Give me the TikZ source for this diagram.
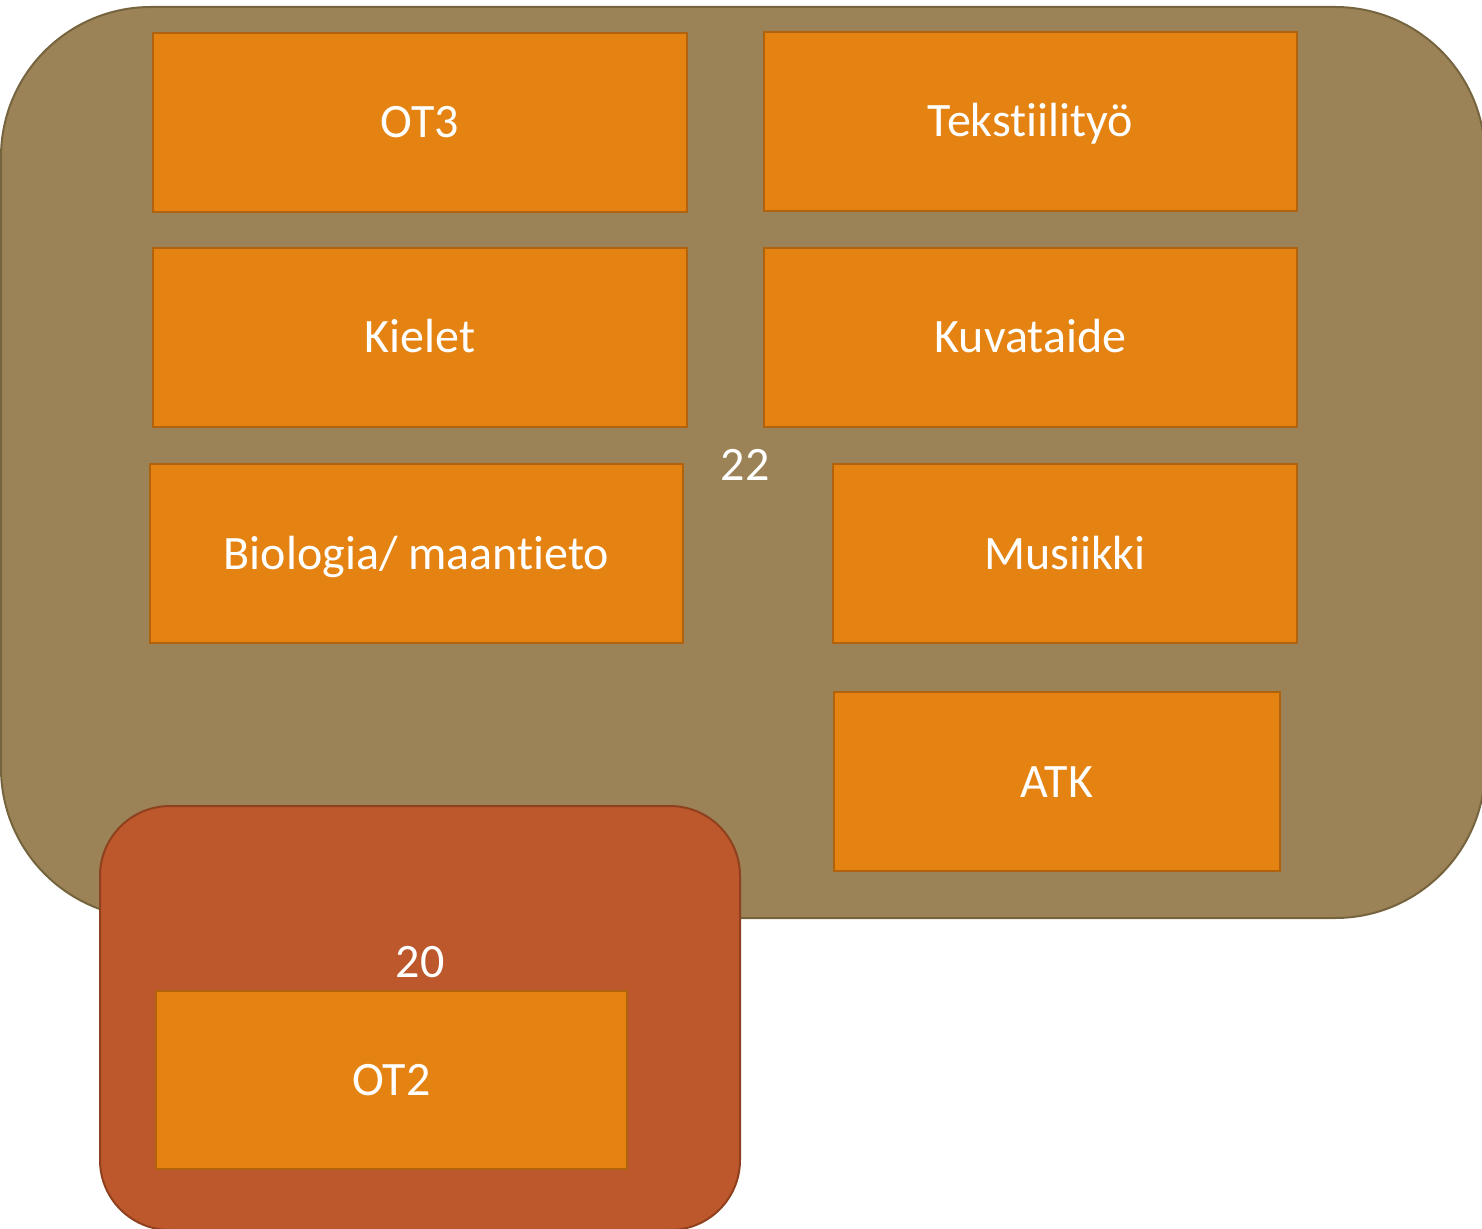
\documentclass[tikz,border=0pt]{standalone}
\usepackage{fontspec}
\setmainfont[Ligatures=NoCommon]{Carlito}
\definecolor{bigfill}{HTML}{9B8357}
\definecolor{bigdraw}{HTML}{76643F}
\definecolor{ofill}{HTML}{E48312}
\definecolor{odraw}{HTML}{B0620C}
\definecolor{rfill}{HTML}{BD582C}
\definecolor{rdraw}{HTML}{8F401E}
\begin{document}
\begin{tikzpicture}[x=0.5pt,y=-0.5pt,
  obox/.style={draw=odraw, fill=ofill, line width=1pt, text=white, font=\fontsize{24}{28}\selectfont, inner sep=0pt, text height=18pt, text depth=2.5pt},
  lbl/.style={text=white, font=\fontsize{24}{28}\selectfont, inner sep=0pt, text height=18pt, text depth=2.5pt}]
\useasboundingbox (0,0) rectangle (1482,1229);
\node[draw=bigdraw, fill=bigfill, line width=1pt, rounded corners=75pt, minimum width=742pt, minimum height=455.5pt, inner sep=0pt] (big) at (743,462.5) {};
\node[obox, minimum width=267pt, minimum height=89.5pt] (ot3) at (420,122.5) {OT3};
\node[obox, minimum width=266.5pt, minimum height=89.5pt] (teks) at (1030.5,121.5) {Tekstiilityö};
\node[obox, minimum width=267pt, minimum height=89.5pt] (kiel) at (420,337.5) {Kielet};
\node[obox, minimum width=266.5pt, minimum height=89.5pt] (kuva) at (1030.5,337.5) {Kuvataide};
\node[obox, minimum width=266.5pt, minimum height=89.5pt] (bio) at (416.5,553.5) {Biologia/ maantieto};
\node[obox, minimum width=232pt, minimum height=89.5pt] (mus) at (1065,553.5) {Musiikki};
\node[obox, minimum width=223pt, minimum height=89.5pt] (atk) at (1057,781.5) {ATK};
\node[lbl] (n22) at (745,465) {22};
\node[draw=rdraw, fill=rfill, line width=1pt, rounded corners=35pt, minimum width=320pt, minimum height=212pt, inner sep=0pt] (red) at (420,1018) {};
\node[lbl] (n20) at (420,962) {20};
\node[obox, minimum width=235.5pt, minimum height=89pt] (ot2) at (391.5,1080) {OT2};
\end{tikzpicture}
\end{document}
